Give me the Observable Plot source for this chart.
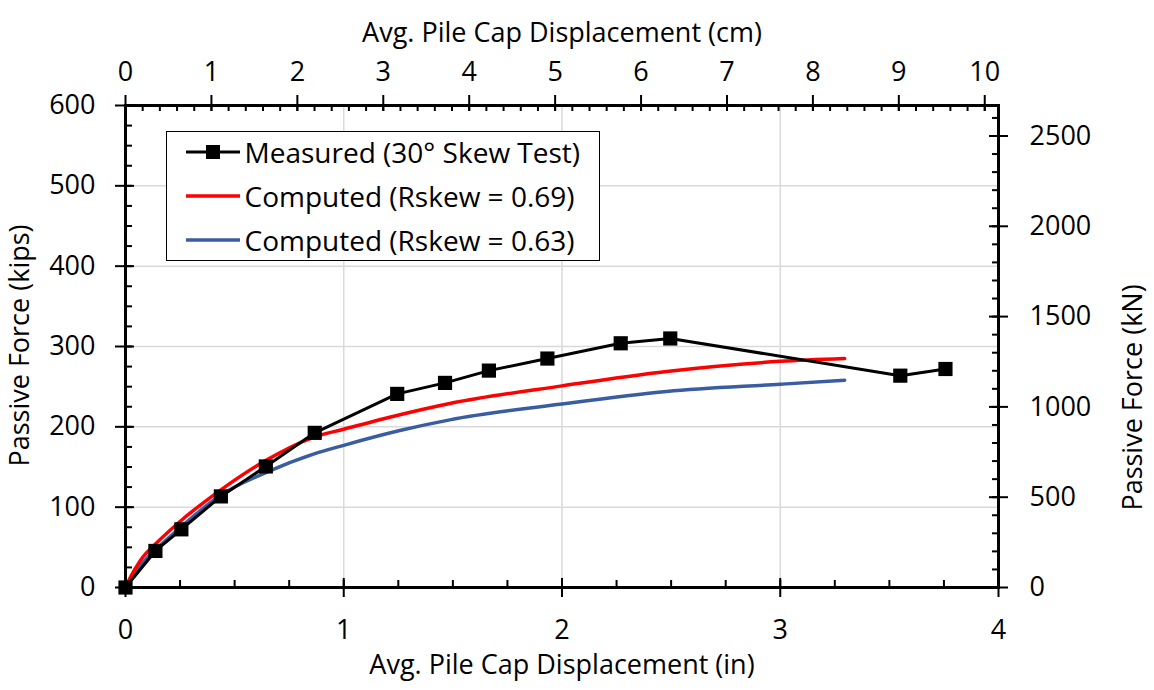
<!DOCTYPE html>
<html>
<head>
<meta charset="utf-8">
<script src="https://cdn.jsdelivr.net/npm/d3@7"></script>
<script src="https://cdn.jsdelivr.net/npm/@observablehq/plot@0.6"></script>
<style>
  html, body { margin: 0; padding: 0; background: #fff; }
  #wrap { position: relative; width: 1154px; height: 690px; font-family: "Open Sans", sans-serif; }
  #legend { position: absolute; left: 166px; top: 131px; width: 432px; height: 128px;
            border: 1.5px solid #000; background: #fff; }
  .row { position: absolute; left: 18.5px; height: 30px; display: flex; align-items: center;
         font-size: 28px; color: #000; white-space: nowrap; }
  .row svg { margin-right: 5px; flex: none; }
</style>
</head>
<body>
<div id="wrap"></div>
<script>
// ---- data ----
const measuredX = [0, 0.137, 0.256, 0.437, 0.643, 0.867, 1.245, 1.464, 1.665, 1.933, 2.269, 2.496, 3.55, 3.757];
const measuredY = [0, 45.5, 72.4, 113.4, 150.7, 192.5, 241, 254.7, 270, 285, 304, 310, 263.7, 272];

const redX = [0, 0.023, 0.069, 0.16, 0.251, 0.434, 0.648, 0.861, 1.0, 1.257, 1.486, 2.0, 2.48, 3.0, 3.295];
const redY = [0, 13, 34, 60, 82.5, 121, 159, 187, 197, 215, 229, 251, 269, 281.5, 285];

const blueX = [0, 0.023, 0.069, 0.16, 0.251, 0.434, 0.648, 0.861, 1.0, 1.257, 1.486, 2.0, 2.48, 3.0, 3.295];
const blueY = [0, 9, 27.5, 52.5, 74.5, 114.7, 143.6, 166, 177, 195.4, 208.7, 228.5, 244, 253, 258];

const seriesNames = ["Measured (30° Skew Test)", "Computed (Rskew = 0.69)", "Computed (Rskew = 0.63)"];

// tick labels
const inchTicks = [0, 1, 2, 3, 4];
const kipsTicks = [0, 100, 200, 300, 400, 500, 600];
const cmTicks = [0, 1, 2, 3, 4, 5, 6, 7, 8, 9, 10];
const kNTicks = [0, 500, 1000, 1500, 2000, 2500];
const inchMinor = d3.range(0, 4.0001, 0.25);
const kipsMinor = d3.range(0, 600.001, 25);
const cmMinor = d3.range(0, 10.0001, 0.2);
const kNMinor = d3.range(0, 2600.001, 100);

const titles = {
  bottom: "Avg. Pile Cap Displacement (in)",
  top: "Avg. Pile Cap Displacement (cm)",
  left: "Passive Force (kips)",
  right: "Passive Force (kN)"
};

const CM_PER_IN = 2.54;
const KN_PER_KIP = 4.448;

// ---- layout ----
const W = 1154, H = 690;
const mL = 125, mR = 156, mT = 105, mB = 103;
const FW = W - mL - mR, FH = H - mT - mB;
const FS = 27;

const measured = measuredX.map((x, i) => ({x, y: measuredY[i]}));
const red = redX.map((x, i) => ({x, y: redY[i]}));
const blue = blueX.map((x, i) => ({x, y: blueY[i]}));

const BLUE = "#3a5ca2";
const RED = "#ff0000";

const chart = Plot.plot({
  width: W, height: H,
  marginLeft: mL, marginRight: mR, marginTop: mT, marginBottom: mB,
  style: {fontFamily: "Open Sans, sans-serif", fontSize: FS + "px", color: "#000", background: "#fff"},
  x: {domain: [0, 4]},
  y: {domain: [0, 600]},
  marks: [
    // gridlines
    Plot.ruleX([1, 2, 3], {stroke: "#d9d9d9", strokeWidth: 1.5}),
    Plot.ruleY([100, 200, 300, 400, 500], {stroke: "#d9d9d9", strokeWidth: 1.5}),
    // series
    Plot.line(blue, {x: "x", y: "y", stroke: BLUE, strokeWidth: 3.5, curve: "monotone-x"}),
    Plot.line(red, {x: "x", y: "y", stroke: RED, strokeWidth: 3.5, curve: "monotone-x"}),
    Plot.line(measured, {x: "x", y: "y", stroke: "#000", strokeWidth: 3}),
    Plot.dot(measured, {x: "x", y: "y", symbol: "square", r: 8, fill: "#000", stroke: null}),
    // frame
    Plot.frame({stroke: "#000", strokeWidth: 3}),
    // bottom ticks
    Plot.ruleX(inchMinor, {x: d => d, insetTop: FH - 7, stroke: "#000", strokeWidth: 2}),
    Plot.ruleX(inchTicks, {x: d => d, insetTop: FH - 9, insetBottom: -10, stroke: "#000", strokeWidth: 2}),
    // top ticks (cm)
    Plot.ruleX(cmMinor.map(c => c / CM_PER_IN), {x: d => d, insetBottom: FH - 6, stroke: "#000", strokeWidth: 2}),
    Plot.ruleX(cmTicks.map(c => c / CM_PER_IN), {x: d => d, insetBottom: FH - 6, insetTop: -10, stroke: "#000", strokeWidth: 2}),
    // left ticks
    Plot.ruleY(kipsMinor, {y: d => d, insetRight: FW - 7, stroke: "#000", strokeWidth: 2}),
    Plot.ruleY(kipsTicks, {y: d => d, insetRight: FW - 9, insetLeft: -10, stroke: "#000", strokeWidth: 2}),
    // right ticks (kN)
    Plot.ruleY(kNMinor.map(k => k / KN_PER_KIP), {y: d => d, insetLeft: FW - 6, stroke: "#000", strokeWidth: 2}),
    Plot.ruleY(kNTicks.map(k => k / KN_PER_KIP), {y: d => d, insetLeft: FW - 9, insetRight: -10, stroke: "#000", strokeWidth: 2}),
    // tick labels
    Plot.axisX({anchor: "bottom", ticks: inchTicks, tickSize: 0, tickPadding: 32, tickFormat: d => String(d), label: null, fontSize: FS}),
    Plot.axisX({anchor: "top", ticks: cmTicks.map(c => c / CM_PER_IN), tickSize: 0, tickPadding: 25,
                tickFormat: d => String(Math.round(d * CM_PER_IN)), label: null, fontSize: FS}),
    Plot.axisY({anchor: "left", ticks: kipsTicks, tickSize: 0, tickPadding: 30, tickFormat: d => String(d), label: null, fontSize: FS}),
    Plot.axisY({anchor: "right", ticks: kNTicks.map(k => k / KN_PER_KIP), tickSize: 0, tickPadding: 31,
                tickFormat: d => String(Math.round(d * KN_PER_KIP)), label: null, fontSize: FS}),
    // axis titles
    Plot.text([titles.bottom], {frameAnchor: "bottom", dy: 86, text: d => d, fontSize: FS, textAnchor: "middle"}),
    Plot.text([titles.top], {frameAnchor: "top", dy: -83, text: d => d, fontSize: FS, textAnchor: "middle"}),
    Plot.text([titles.left], {frameAnchor: "left", dx: -105, dy: -1, rotate: -90, text: d => d, fontSize: FS, textAnchor: "middle"}),
    Plot.text([titles.right], {frameAnchor: "right", dx: 135, dy: 51, rotate: -90, text: d => d, fontSize: FS, textAnchor: "middle"})
  ]
});

const wrap = document.getElementById("wrap");
wrap.appendChild(chart);

// legend
const legend = document.createElement("div");
legend.id = "legend";
const styles = [
  {stroke: "#000", w: 3, marker: true},
  {stroke: RED, w: 3.5, marker: false},
  {stroke: BLUE, w: 3.5, marker: false}
];
seriesNames.forEach((name, i) => {
  const row = document.createElement("div");
  row.className = "row";
  row.style.top = (4.5 + i * 44) + "px";
  const s = styles[i];
  row.innerHTML = `<svg width="54" height="20"><line x1="0" x2="54" y1="10" y2="10" stroke="${s.stroke}" stroke-width="${s.w}"/>` +
    (s.marker ? `<rect x="20" y="3" width="14" height="14" fill="#000"/>` : "") + `</svg><span>${name}</span>`;
  legend.appendChild(row);
});
wrap.appendChild(legend);
</script>
</body>
</html>
